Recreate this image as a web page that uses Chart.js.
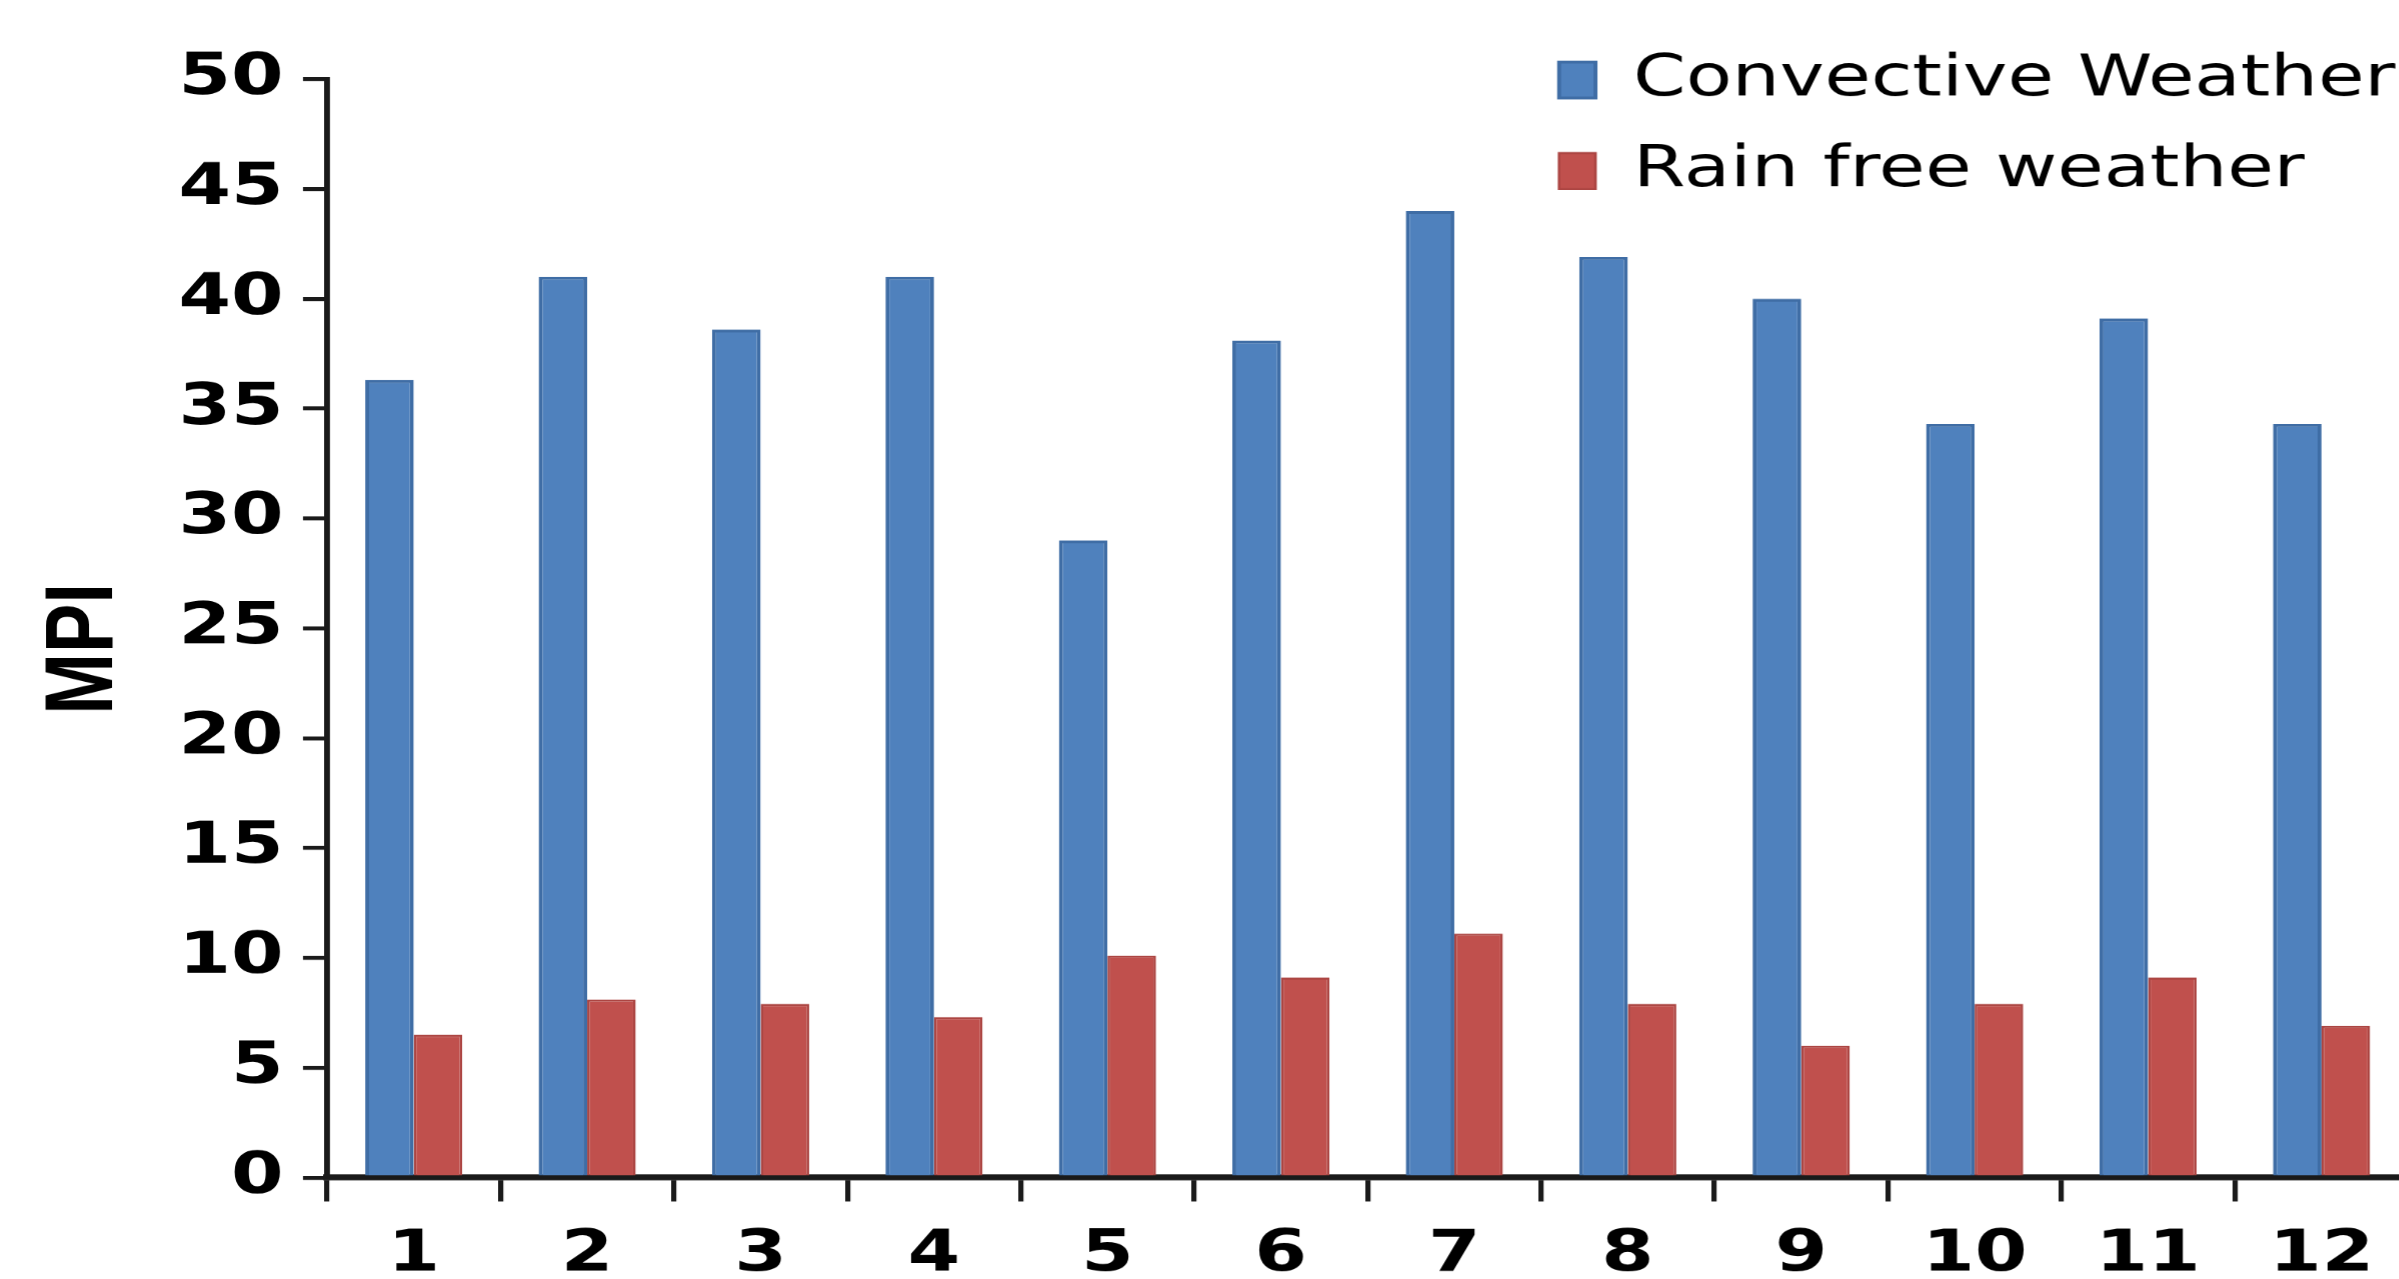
<!DOCTYPE html>
<html>
<head>
<meta charset="utf-8">
<title>MPI by month</title>
<script src="https://cdn.jsdelivr.net/npm/chart.js@4.4.1/dist/chart.umd.min.js"></script>
<style>
  html, body { margin: 0; padding: 0; background: #fff; overflow: hidden; width: 2399px; height: 1279px; }
  /* the chart is laid out narrower and widened horizontally */
  #frame { position: absolute; left: 0; top: 0; width: 1852px; height: 1279px; transform: scaleX(1.3); transform-origin: 0 0; }
</style>
</head>
<body>
<div id="frame"><canvas id="chart"></canvas></div>
<script>
// Monthly MPI values
const months = ['1', '2', '3', '4', '5', '6', '7', '8', '9', '10', '11', '12'];
const convectiveWeather = [36.3, 41.0, 38.6, 41.0, 29.0, 38.1, 44.0, 41.9, 40.0, 34.3, 39.1, 34.3];
const rainFreeWeather = [6.5, 8.1, 7.9, 7.3, 10.1, 9.1, 11.1, 7.9, 6.0, 7.9, 9.1, 6.9];
const seriesNames = ['Convective Weather', 'Rain free weather'];
const yTickValues = [0, 5, 10, 15, 20, 25, 30, 35, 40, 45, 50];
const yAxisTitle = 'MPI';

// Legend sits in the upper right corner of the plot
const LEGEND_LEFT = 1166;
const LEGEND_TOP = 18;
const legendAnchor = {
  id: 'legendAnchor',
  afterLayout(chart) {
    const lg = chart.legend;
    if (!lg) return;
    const dx = LEGEND_LEFT - lg.left;
    const dy = LEGEND_TOP - lg.top;
    lg.left += dx; lg.right += dx;
    lg.top += dy; lg.bottom += dy;
  }
};

const axisInk = '#1a1a1a';
const tickFont = { family: 'DejaVu Sans', weight: 'bold', size: 58 };

new Chart(document.getElementById('chart'), {
  type: 'bar',
  data: {
    labels: months,
    datasets: [
      {
        label: seriesNames[0],
        data: convectiveWeather,
        backgroundColor: '#4F81BD',
        borderColor: '#3F6DA5',
        borderWidth: 3
      },
      {
        label: seriesNames[1],
        data: rainFreeWeather,
        backgroundColor: '#C0504D',
        borderColor: '#AC4542',
        borderWidth: 2
      }
    ]
  },
  options: {
    responsive: true,
    maintainAspectRatio: false,
    animation: false,
    devicePixelRatio: 1.3,
    events: [],
    layout: { padding: { left: 0, top: 79, right: 0, bottom: 0 } },
    datasets: { bar: { categoryPercentage: 0.56, barPercentage: 1.0 } },
    scales: {
      x: {
        z: 1,
        offset: true,
        grid: { offset: true, drawOnChartArea: false, drawTicks: true, tickLength: 24, lineWidth: 4, color: axisInk },
        border: { display: true, width: 6, color: axisInk },
        ticks: { font: tickFont, color: '#000', padding: 19, maxRotation: 0, autoSkip: false },
        afterFit(scale) { scale.height = 102; }
      },
      y: {
        z: 1,
        min: yTickValues[0],
        max: yTickValues[yTickValues.length - 1],
        afterBuildTicks(scale) { scale.ticks = yTickValues.map(v => ({ value: v })); },
        grid: { drawOnChartArea: false, drawTicks: true, tickLength: 18.5, lineWidth: 4, color: axisInk },
        border: { display: true, width: 4.5, color: axisInk },
        ticks: { font: tickFont, color: '#000', padding: 15 },
        title: {
          display: true,
          // trailing spaces nudge the rotated title slightly below the axis centre
          text: yAxisTitle + '  ',
          color: '#000',
          font: { family: 'Liberation Sans', weight: 'bold', size: 74 },
          padding: { top: 21, bottom: 0 }
        },
        afterFit(scale) { scale.width = 251.5; }
      }
    },
    plugins: {
      legend: {
        position: 'chartArea',
        align: 'start',
        labels: {
          boxWidth: 28,
          boxHeight: 36,
          padding: 33,
          color: '#000',
          font: { family: 'DejaVu Sans', size: 58 }
        }
      },
      tooltip: { enabled: false }
    }
  },
  plugins: [legendAnchor]
});
</script>
</body>
</html>
